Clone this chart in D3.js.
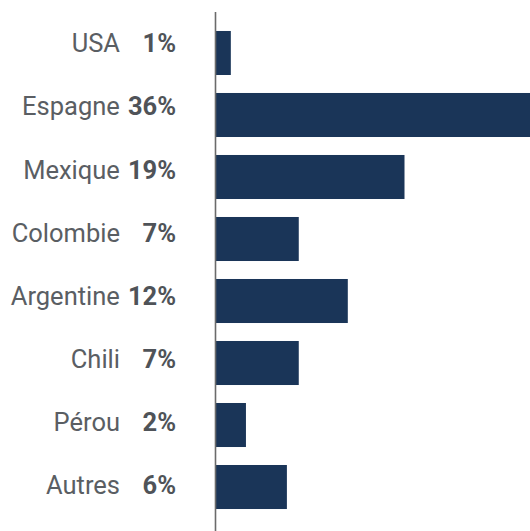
<!DOCTYPE html>
<html>
<head>
<meta charset="utf-8">
<script src="https://cdn.jsdelivr.net/npm/d3@7"></script>
<style>
  html, body { margin: 0; padding: 0; background: #fff; }
  svg { display: block; }
  text { font-family: Roboto, "Noto Sans", sans-serif; }
</style>
</head>
<body>
<svg id="chart" width="530" height="531"></svg>
<script>
// Countries, the share printed next to each, and the bar length
const countries = ["USA", "Espagne", "Mexique", "Colombie", "Argentine", "Chili", "Pérou", "Autres"];
const shares = [1, 36, 19, 7, 12, 7, 2, 6];
const barValues = [1.46, 36, 18.0, 7.93, 12.6, 7.93, 2.9, 6.8];

const width = 530, height = 531;
const axisX = 215.5;
const fontSize = 25.5;

const svg = d3.select("#chart");

// Scales
const xScale = d3.scaleLinear()
    .domain([0, 30])
    .range([axisX, axisX + 315]);

const yScale = d3.scaleBand()
    .domain(countries)
    .range([13, 527])
    .padding(0.29);

// labels sit on a slightly wider pitch than the bars
const labelY = d3.scalePoint()
    .domain(countries)
    .range([52.3, 494]);

const rows = countries.map((c, i) => ({ country: c, share: shares[i], value: barValues[i] }));

// Draw Bars
svg.append("g")
    .selectAll("rect")
    .data(rows)
    .enter()
    .append("rect")
    .attr("x", xScale(0))
    .attr("y", d => yScale(d.country))
    .attr("height", yScale.bandwidth())
    .attr("width", d => xScale(d.value) - xScale(0))
    .style("fill", "#1a3558");

// Axis line
svg.append("line")
    .attr("x1", axisX).attr("x2", axisX)
    .attr("y1", 12).attr("y2", height)
    .attr("stroke", "#6b6b6b")
    .attr("stroke-width", 1.6);

// Labels: bold share right-aligned, name to its left
const labels = svg.append("g")
    .selectAll("g")
    .data(rows)
    .enter()
    .append("g")
    .attr("transform", d => `translate(0,${labelY(d.country)})`);

labels.append("text")
    .attr("x", 176)
    .attr("text-anchor", "end")
    .attr("font-size", fontSize)
    .attr("font-weight", "bold")
    .attr("fill", "#4f5358")
    .text(d => d.share + "%");

labels.each(function () {
    const g = d3.select(this);
    const w = g.select("text").node().getComputedTextLength();
    g.append("text")
        .attr("x", Math.min(120, 176 - w - 8))
        .attr("text-anchor", "end")
        .attr("font-size", fontSize)
        .attr("fill", "#5a5e63")
        .text(d => d.country);
});
</script>
</body>
</html>
